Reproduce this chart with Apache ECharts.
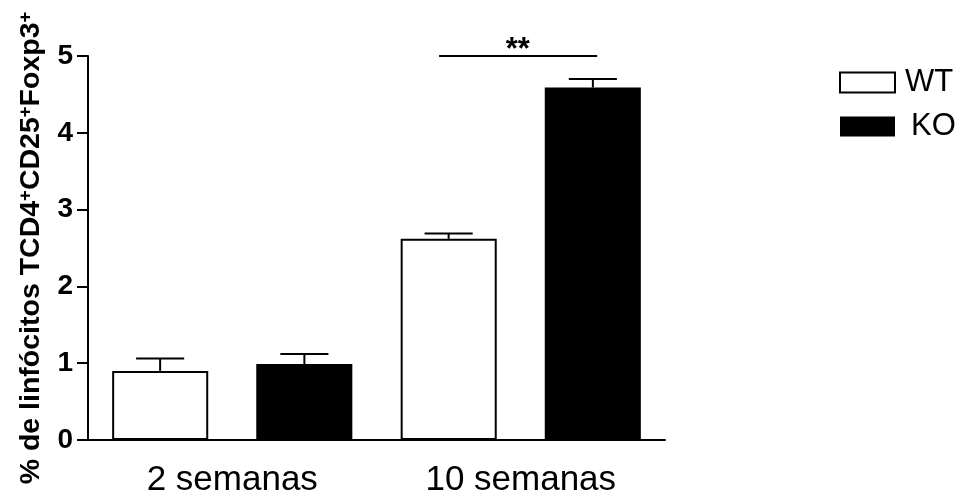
<!DOCTYPE html>
<html><head><meta charset="utf-8">
<script src="https://cdn.jsdelivr.net/npm/echarts@6/dist/echarts.min.js"></script>
<style>html,body{margin:0;padding:0;background:#fff}#c{width:964px;height:499px}</style>
</head><body><div id="c"></div>
<script>
const categories = ['2 semanas', '10 semanas'];
const seriesNames = ['WT', 'KO'];
const wtMean = [0.90, 2.62];
const koMean = [0.99, 4.59];
const wtErr = [0.16, 0.07];
const koErr = [0.13, 0.11];
const yMin = 0, yMax = 5, yStep = 1;
const sigCategory = 1;
const sigLevel = 5;
const sigLabel = '**';

const FONT = "'Liberation Sans', Arial, sans-serif";

function errData(mean, err) {
  return mean.map((m, i) => [i, m, m + err[i]]);
}
function errRender(sign) {
  return function (params, api) {
    const idx = api.value(0);
    const band = api.size([1, 0])[0];
    const p0 = api.coord([idx, api.value(1)]);
    const p1 = api.coord([idx, api.value(2)]);
    const x = p0[0] + sign * band * 0.25;
    const half = band / 12;
    const st = { stroke: '#000', lineWidth: 2 };
    return { type: 'group', children: [
      { type: 'line', shape: { x1: x, y1: p0[1], x2: x, y2: p1[1] }, style: st },
      { type: 'line', shape: { x1: x - half, y1: p1[1], x2: x + half, y2: p1[1] }, style: st }
    ]};
  };
}

const chart = echarts.init(document.getElementById('c'), null, { renderer: 'canvas' });
chart.setOption({
  animation: false,
  backgroundColor: '#fff',
  textStyle: { fontFamily: FONT, color: '#000' },
  grid: { left: 88, right: 299, top: 56, bottom: 59, containLabel: false },
  legend: {
    orient: 'vertical', left: 839, top: 67, padding: 0, itemWidth: 55, itemHeight: 20, itemGap: 13,
    icon: 'rect',
    textStyle: { fontSize: 31, color: '#000', fontFamily: FONT, lineHeight: 31 },
    data: [
      { name: seriesNames[0], itemStyle: { color: '#fff', borderColor: '#000', borderWidth: 2 }, textStyle: { padding: [0, 0, 0, 5] } },
      { name: seriesNames[1], itemStyle: { color: '#000', borderColor: '#000', borderWidth: 0 }, textStyle: { padding: [0, 0, 0, 11] } }
    ]
  },
  xAxis: {
    type: 'category', data: categories,
    axisLine: { show: true, lineStyle: { color: '#000', width: 2 } },
    axisTick: { show: false },
    axisLabel: { fontSize: 35, color: '#000', margin: 23, fontFamily: FONT }
  },
  yAxis: {
    type: 'value', min: yMin, max: yMax, interval: yStep,
    splitLine: { show: false },
    axisLine: { show: true, lineStyle: { color: '#000', width: 2 } },
    axisTick: { show: true, length: 11, lineStyle: { color: '#000', width: 2 } },
    axisLabel: { fontSize: 28, fontWeight: 'bold', color: '#000', margin: 15, fontFamily: FONT },
    name: '{t|% de linfócitos TCD4}{s|+}{t|CD25}{s|+}{t|Foxp3}{s|+}',
    nameLocation: 'middle', nameGap: 42,
    nameTextStyle: {
      rich: {
        t: { fontSize: 28.5, fontWeight: 'bold', color: '#000', fontFamily: FONT, lineHeight: 30 },
        s: { fontSize: 18.5, fontWeight: 'bold', color: '#000', fontFamily: FONT, verticalAlign: 'top', lineHeight: 18 }
      }
    }
  },
  series: [
    { name: seriesNames[0], type: 'bar', data: wtMean, barWidth: '33.3%', barGap: '50%',
      itemStyle: { color: '#fff', borderColor: '#000', borderWidth: 2 } },
    { name: seriesNames[1], type: 'bar', data: koMean, barWidth: '33.3%', barGap: '50%',
      itemStyle: { color: '#000', borderColor: '#000', borderWidth: 2 } },
    { type: 'custom', name: 'errWT', data: errData(wtMean, wtErr), renderItem: errRender(-1), z: 5,
      encode: { x: 0, y: [1, 2] } },
    { type: 'custom', name: 'errKO', data: errData(koMean, koErr), renderItem: errRender(1), z: 5,
      encode: { x: 0, y: [1, 2] } }
  ]
});

const c0 = chart.convertToPixel({ xAxisIndex: 0 }, 0);
const c1 = chart.convertToPixel({ xAxisIndex: 0 }, 1);
const band = c1 - c0;
const cx = chart.convertToPixel({ xAxisIndex: 0 }, sigCategory);
const sy = chart.convertToPixel({ yAxisIndex: 0 }, sigLevel);
chart.setOption({
  graphic: [
    { type: 'line', shape: { x1: cx - band * 0.283, y1: sy, x2: cx + band * 0.265, y2: sy },
      style: { stroke: '#000', lineWidth: 2 } },
    { type: 'text', x: cx - 3, y: sy - 6,
      style: { text: sigLabel, fontSize: 31, fontWeight: 'bold', fontFamily: FONT, fill: '#000', align: 'center', verticalAlign: 'middle' } }
  ]
});
</script>
</body></html>
